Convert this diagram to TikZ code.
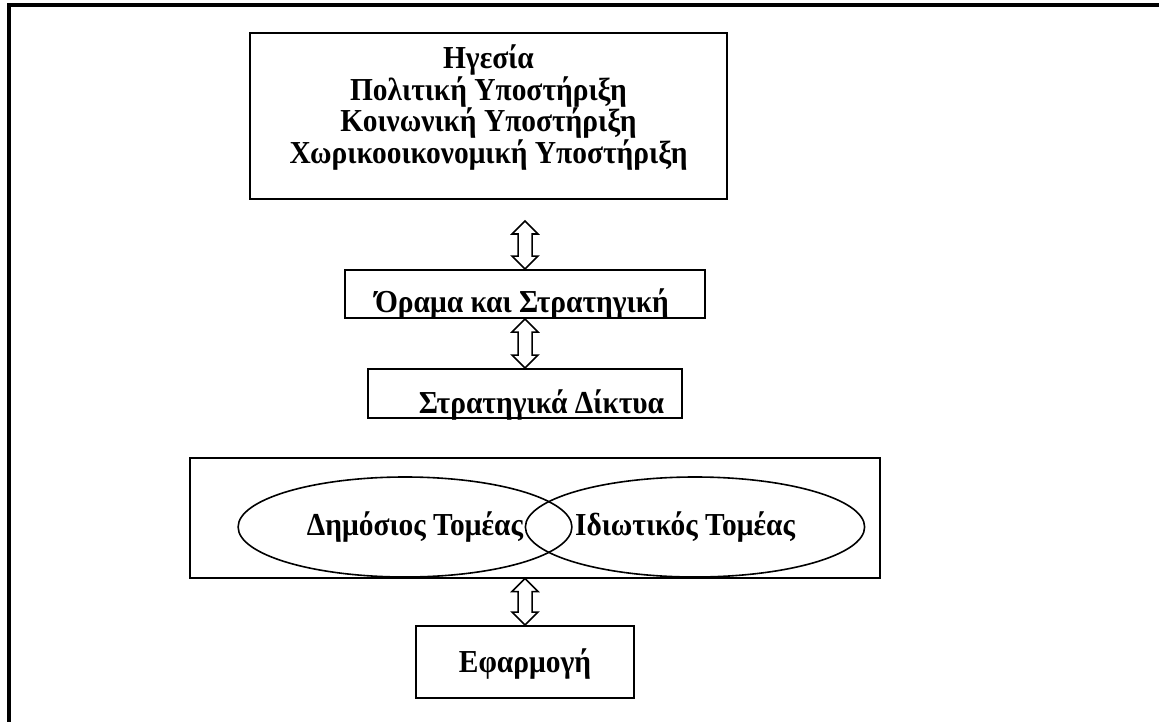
\documentclass[tikz,border=0pt]{standalone}
\usepackage{fontspec}
\setmainfont[FakeStretch=0.92]{Liberation Serif}
\usetikzlibrary{calc,shapes.geometric}
\newcommand\dblarr[2]{\draw[dblarrow] (#1) -- ++(-13,13) -- ++(6,0) -- ($(#2)+(-7,-13)$) -- ++(-6,0) -- (#2) -- ++(13,-13) -- ++(-6,0) -- ($(#1)+(7,13)$) -- ++(6,0) -- cycle;}
\begin{document}
\begin{tikzpicture}[x=1pt,y=-1pt,
  txt/.style={font=\fontsize{32}{31.5}\selectfont\bfseries},
  box/.style={draw, line width=2pt, inner sep=0pt, txt},
  oval/.style={draw, ellipse, line width=1.6pt, inner sep=0pt, minimum width=320pt, minimum height=100pt, txt},
  dblarrow/.style={draw, line width=1.5pt, fill=white, line join=miter},
  frame/.style={line width=4pt}]
\useasboundingbox (0,0) rectangle (1159,722);
\draw[frame] (9,722) -- (9,5.5) -- (1159,5.5);

\node[box, minimum width=477pt, minimum height=166pt, align=center] (lead) at (488.5,116)
  {Ηγεσία\\Πολιτική Υποστήριξη\\Κοινωνική Υποστήριξη\\Χωρικοοικονομική Υποστήριξη\rule[-24pt]{0pt}{0pt}};
\node[box, minimum width=360pt, text height=42pt, text depth=6pt] (vision) at (525,294)
  {\hspace*{-6pt}Όραμα και Στρατηγική};
\node[box, minimum width=314pt, text height=44pt, text depth=5pt] (net) at (525,393.5)
  {\hspace*{33pt}Στρατηγικά Δίκτυα};
\node[box, minimum width=690pt, minimum height=120pt] (sectors) at (535,517.5) {};
\node[oval] (public) at (405,527) {\hspace*{20pt}Δημόσιος Τομέας};
\node[oval] (private) at (695,527) {Ιδιωτικός Τομέας\hspace*{20pt}};
\node[box, minimum width=218pt, text height=46pt, text depth=26pt] (impl) at (525,662) {Εφαρμογή};

\coordinate (a1) at (525,221);
\dblarr{a1}{vision.north}
\dblarr{vision.south}{net.north}
\dblarr{sectors.south -| impl.north}{impl.north}
\end{tikzpicture}
\end{document}
